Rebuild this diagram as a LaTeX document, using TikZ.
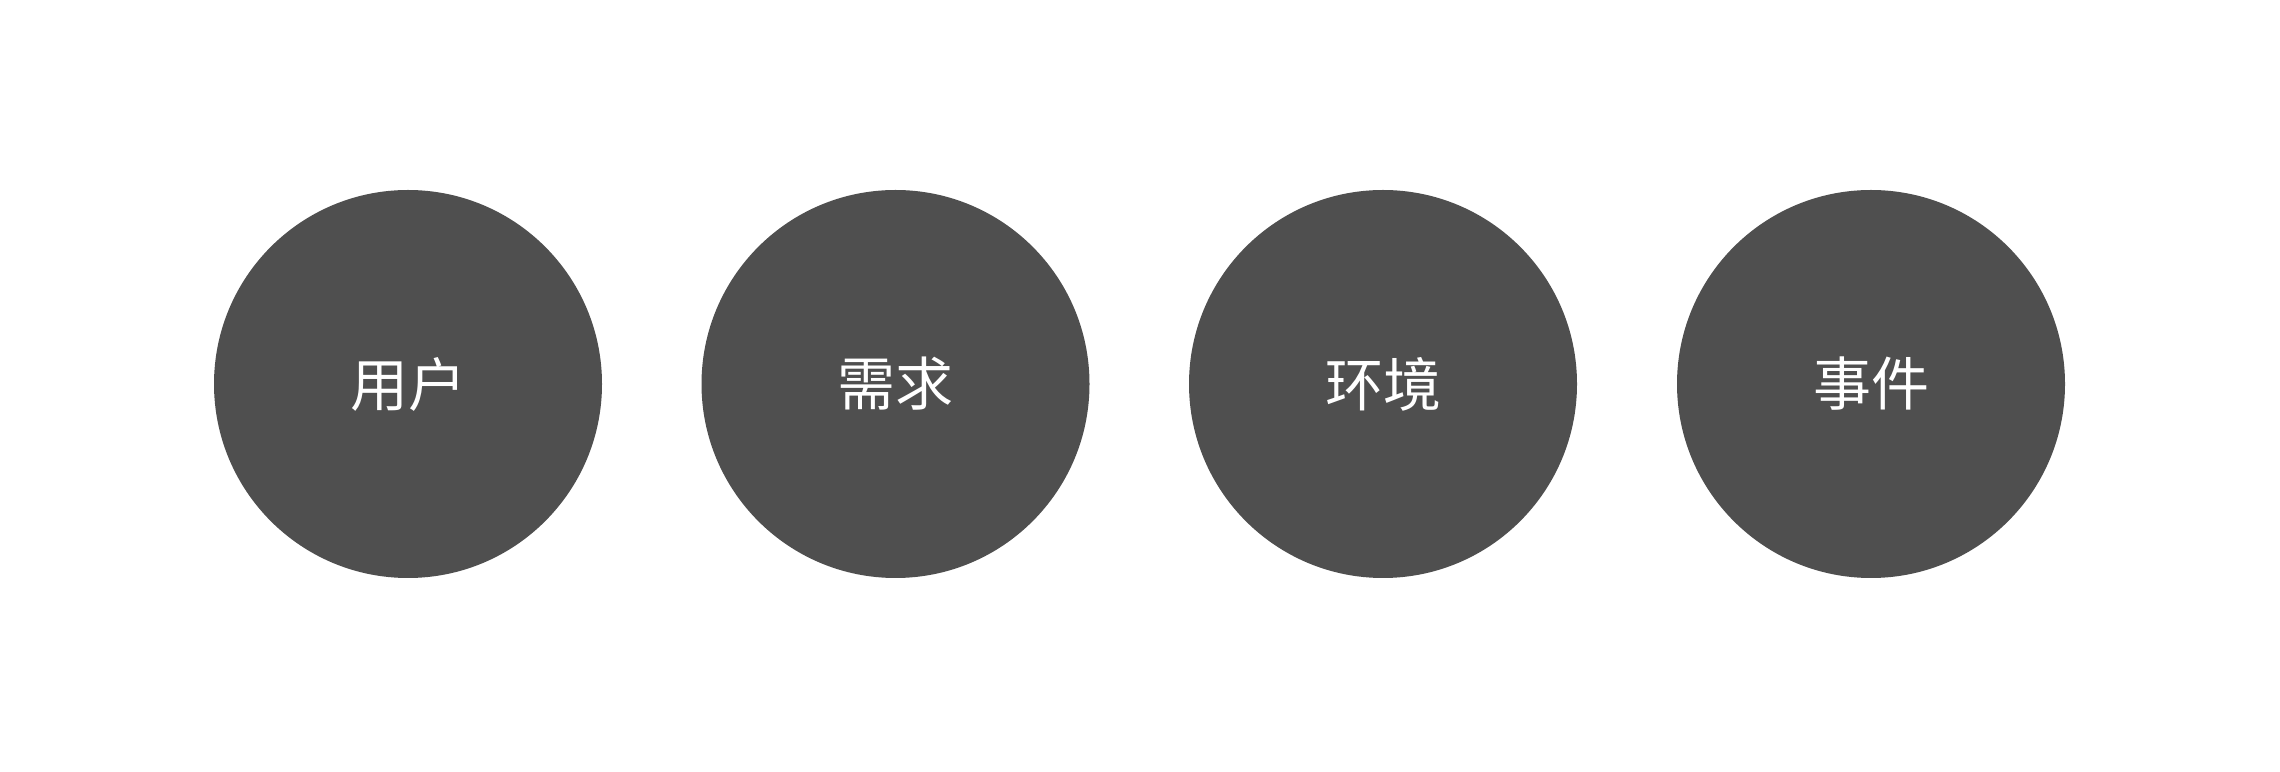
\documentclass[tikz,border=0pt]{standalone}
\usepackage{fontspec}
\newfontfamily\cjk{Noto Sans CJK SC}
\definecolor{discgray}{HTML}{4F4F4F}
\tikzset{
  disc/.style={circle, fill=discgray, draw=none, minimum size=388pt, inner sep=0pt,
    text=white, font=\cjk\fontsize{58}{62}\selectfont}
}
\begin{document}
\begin{tikzpicture}[x=1pt,y=1pt]
\useasboundingbox[fill=white] (0,0) rectangle (2280,771);
\node[disc] (yonghu) at (408,387) {用户};
\node[disc] (xuqiu) at (895.5,387) {需求};
\node[disc] (huanjing) at (1383,387) {环境};
\node[disc] (shijian) at (1871,387) {事件};
\end{tikzpicture}
\end{document}
